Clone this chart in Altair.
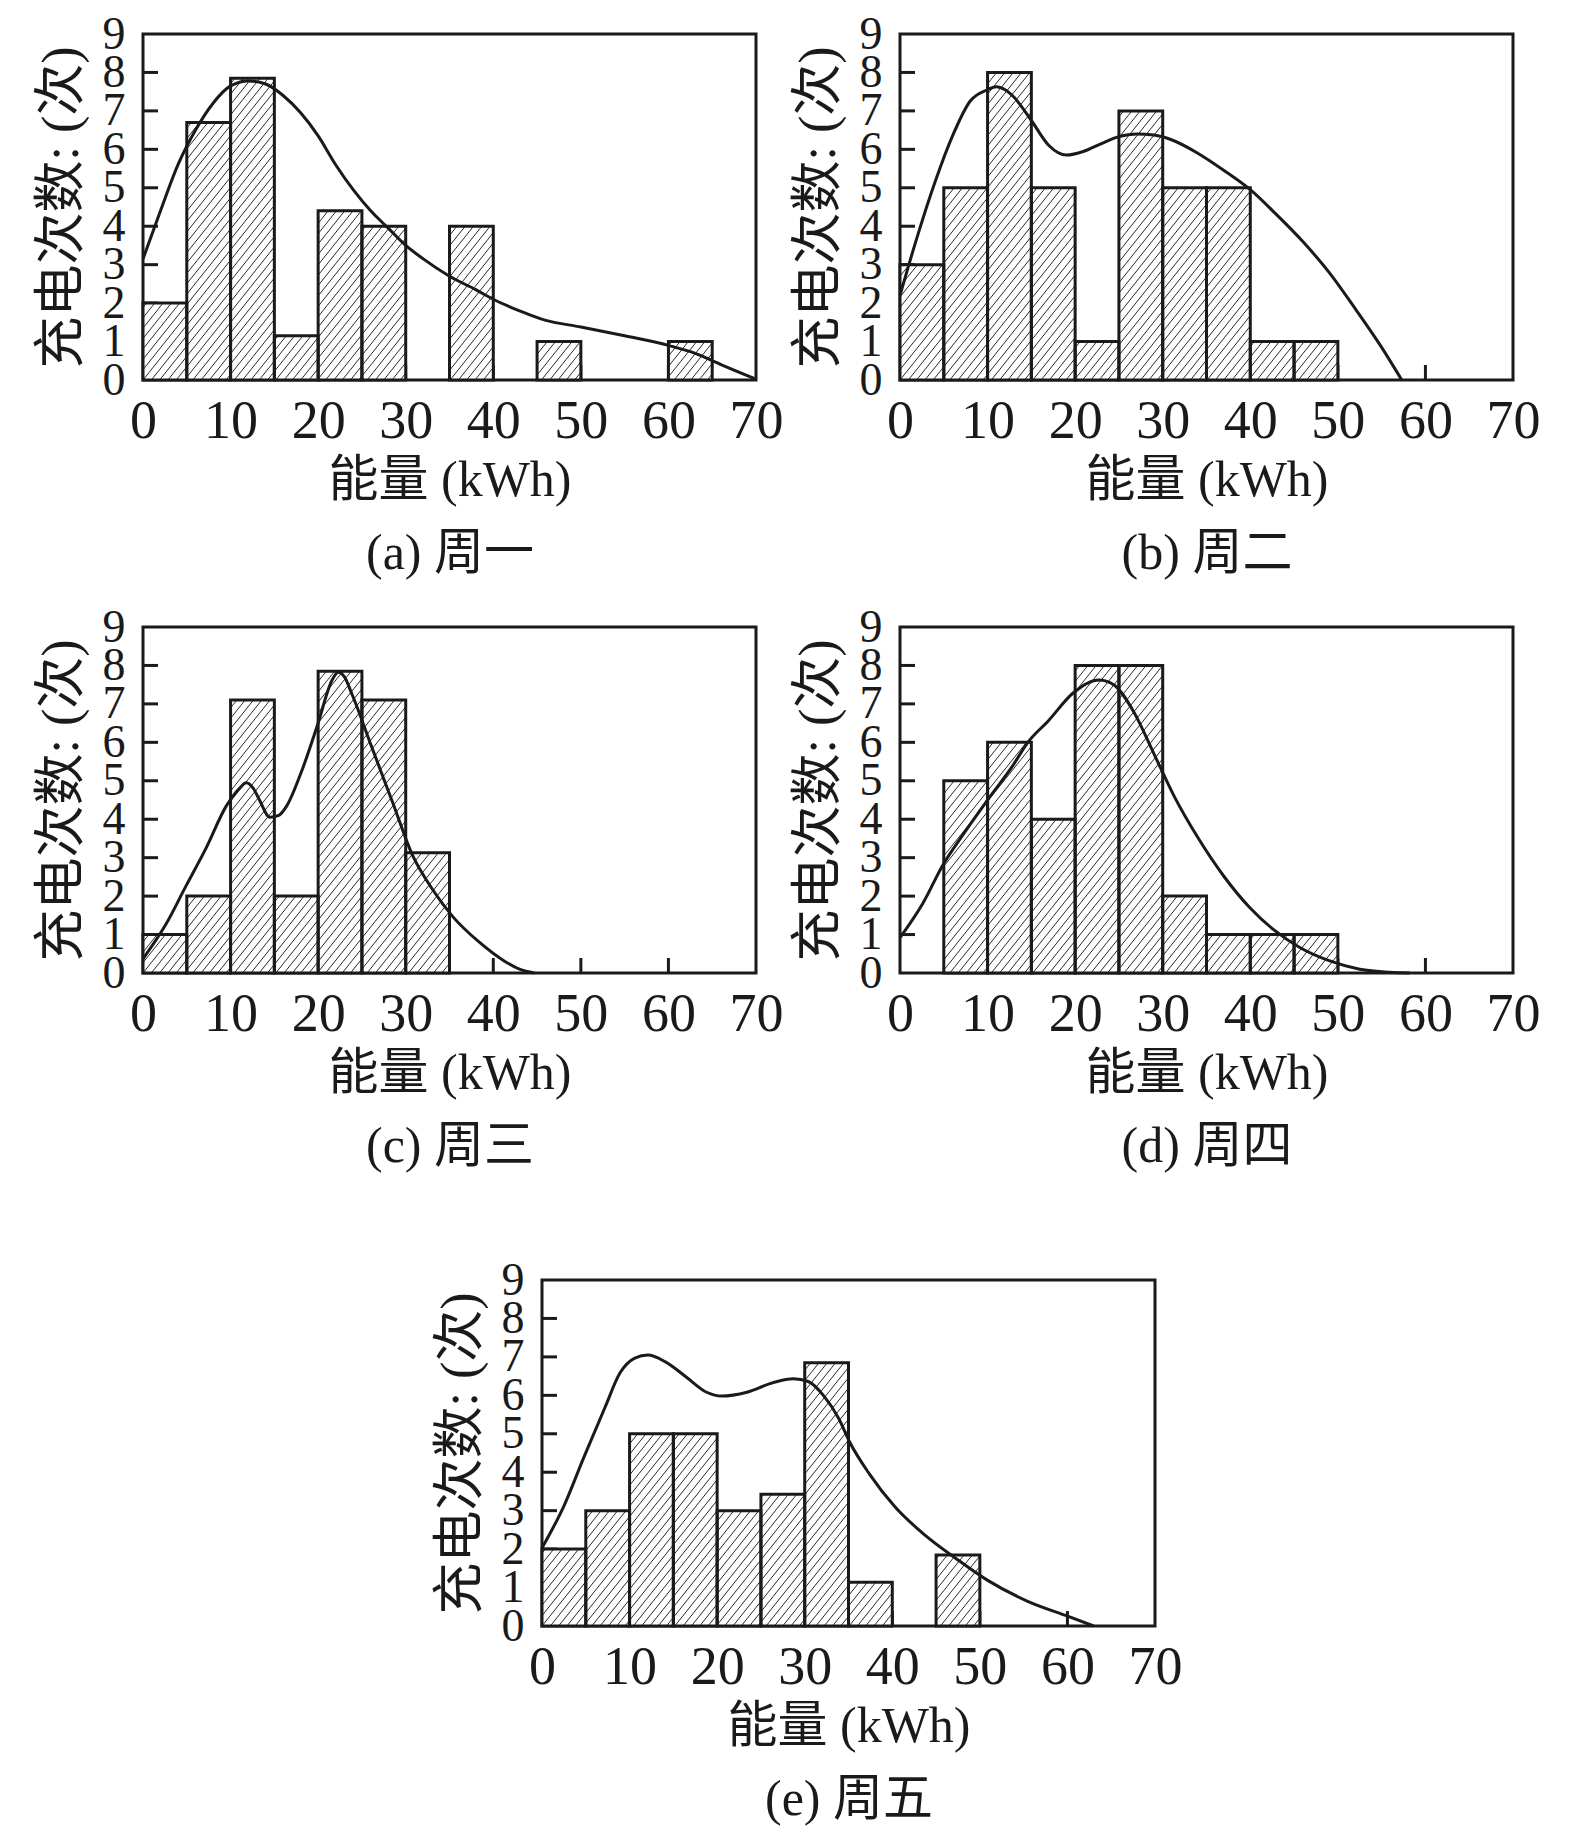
import altair as alt
import numpy as np
import pandas as pd

# ---------------- data ----------------
BIN_WIDTH = 5
BIN_STARTS = list(range(0, 70, 5))

MON = [2, 6.7, 7.85, 1.15, 4.4, 4, 0, 4, 0, 1, 0, 0, 1, 0]
TUE = [3, 5, 8, 5, 1, 7, 5, 5, 1, 1, 0, 0, 0, 0]
WED = [1, 2, 7.1, 2, 7.85, 7.1, 3.13, 0, 0, 0, 0, 0, 0, 0]
THU = [0, 5, 6, 4, 8, 8, 2, 1, 1, 1, 0, 0, 0, 0]
FRI = [2, 3, 5, 5, 3, 3.43, 6.85, 1.14, 0, 1.85, 0, 0, 0, 0]

MON_CX = [0, 2, 4, 6, 8, 10, 12, 14, 16, 18, 20, 22, 24, 26, 28, 30, 32, 35, 38, 40, 43, 46, 50, 55, 60, 63, 66, 70]
MON_CY = [3.15, 4.4, 5.6, 6.5, 7.2, 7.65, 7.78, 7.7, 7.4, 6.95, 6.35, 5.6, 4.95, 4.4, 3.95, 3.5, 3.15, 2.7, 2.35, 2.1, 1.8, 1.55, 1.38, 1.15, 0.9, 0.7, 0.4, 0.02]

TUE_CX = [0, 2, 4, 6, 8, 10, 11, 12, 13, 15, 17, 19, 21, 23, 25, 27, 29, 31, 34, 37, 40, 43, 46, 49, 52, 55, 57.3]
TUE_CY = [2.2, 3.75, 5.15, 6.35, 7.25, 7.55, 7.63, 7.55, 7.36, 6.75, 6.1, 5.85, 5.95, 6.15, 6.33, 6.4, 6.37, 6.25, 5.9, 5.45, 4.95, 4.3, 3.6, 2.8, 1.85, 0.85, 0]

WED_CX = [0, 2.6, 4.9, 7.2, 9.5, 11, 11.8, 12.6, 13.3, 14.5, 15.5, 16.4, 18.1, 19.9, 21.6, 22.3, 23, 23.9, 26.2, 28.5, 30.8, 33.1, 35.4, 38.3, 41.2, 43, 44.7]
WED_CY = [0.37, 1.26, 2.26, 3.25, 4.34, 4.8, 4.95, 4.8, 4.5, 4.05, 4.1, 4.34, 5.24, 6.43, 7.62, 7.82, 7.7, 7.23, 5.83, 4.44, 3.05, 2.16, 1.46, 0.82, 0.32, 0.1, 0]

THU_CX = [0, 2.6, 4.9, 7.2, 10, 12.9, 14.6, 16.9, 19.8, 22.7, 24.4, 26.7, 29, 31.3, 34.1, 37, 39.9, 42.7, 45.6, 49, 52.5, 55.9, 58.2]
THU_CY = [0.92, 1.81, 2.81, 3.6, 4.5, 5.4, 6.0, 6.55, 7.29, 7.62, 7.5, 6.79, 5.7, 4.6, 3.49, 2.51, 1.71, 1.12, 0.67, 0.32, 0.1, 0.02, 0]

FRI_CX = [0, 2.5, 4.8, 7.2, 8.9, 10.6, 12.1, 14.1, 16.5, 18.8, 20.5, 23.4, 26.4, 28.7, 30.4, 32.2, 33.9, 35.1, 37.4, 40.3, 43.8, 47.3, 50.8, 55.4, 60.1, 63]
FRI_CY = [2.03, 3.12, 4.4, 5.69, 6.58, 6.97, 7.05, 6.87, 6.47, 6.08, 5.98, 6.08, 6.33, 6.43, 6.36, 5.98, 5.39, 4.8, 3.95, 3.1, 2.35, 1.75, 1.2, 0.65, 0.25, 0]

CAPTIONS = ["(a) 周一", "(b) 周二", "(c) 周三", "(d) 周四", "(e) 周五"]
X_TICKS = [0, 10, 20, 30, 40, 50, 60, 70]
Y_TICKS = [0, 1, 2, 3, 4, 5, 6, 7, 8, 9]
X_TITLE = "能量 (kWh)"
Y_TITLE = "充电次数: (次)"

# ---------------- style ----------------
W, H = 613, 346
X_MAX, Y_MAX = 70, 9
INK = "#1a1a1a"
SERIF = "Liberation Serif"
MIX = "Liberation Serif, Noto Sans CJK SC"
TICK_LEN = 15
HATCH_SLOPE_PX = 1.25
HATCH_STEP_PX = 8.3


def make_hatch(bars):
    kx = W / X_MAX
    ky = H / Y_MAX
    m = HATCH_SLOPE_PX * kx / ky
    step = HATCH_STEP_PX / kx
    rows = []
    for x0, x1, n in zip(bars["x0"], bars["x1"], bars["n"]):
        run = n / m
        k0 = int(np.floor((x0 - run) / step))
        k1 = int(np.ceil(x1 / step))
        for k in range(k0, k1 + 1):
            c = k * step
            a = max(x0, c)
            b = min(x1, c + run)
            if b - a > 1e-9:
                rows.append({"hx": a, "hy": m * (a - c), "hx2": b, "hy2": m * (b - c)})
    return pd.DataFrame(rows)


def panel(counts, cx, cy, caption):
    bars = pd.DataFrame({
        "x0": BIN_STARTS,
        "x1": [s + BIN_WIDTH for s in BIN_STARTS],
        "n": counts,
    })
    bars = bars[bars["n"] > 0].reset_index(drop=True)
    bars["z"] = 0
    hatch = make_hatch(bars)
    curve = pd.DataFrame({"e": cx, "f": cy})

    XS = alt.Scale(domain=[0, X_MAX], nice=False, zero=False)
    YS = alt.Scale(domain=[0, Y_MAX], nice=False, zero=False)
    ax = alt.Axis(values=X_TICKS, title=[X_TITLE, caption], grid=False, domain=False,
                  tickSize=0, labelFont=SERIF, labelFontSize=54, labelColor=INK,
                  labelPadding=14, labelFlush=False, labelOverlap=False,
                  titleFont=MIX, titleFontSize=50, titleFontWeight="normal",
                  titleColor=INK, titlePadding=7, titleLineHeight=73)
    ay = alt.Axis(values=Y_TICKS, title=Y_TITLE, grid=False, domain=False,
                  tickSize=0, labelFont=SERIF, labelFontSize=46, labelColor=INK,
                  labelPadding=18, labelFlush=False, labelOverlap=False,
                  titleFont=MIX, titleFontSize=52, titleFontWeight="normal",
                  titleColor=INK, titlePadding=14)

    xt = alt.Chart(pd.DataFrame({"v": X_TICKS[1:-1]})).mark_rule(
        color=INK, strokeWidth=3).encode(
        x=alt.X("v:Q", scale=XS, axis=ax),
        y=alt.value(H), y2=alt.value(H - TICK_LEN))
    yt = alt.Chart(pd.DataFrame({"v": Y_TICKS[1:-1]})).mark_rule(
        color=INK, strokeWidth=3).encode(
        y=alt.Y("v:Q", scale=YS, axis=ay),
        x=alt.value(0), x2=alt.value(TICK_LEN))
    fill = alt.Chart(bars).mark_rect(fill="white").encode(
        x=alt.X("x0:Q", scale=XS, axis=ax), x2="x1:Q",
        y=alt.Y("n:Q", scale=YS, axis=ay), y2="z:Q")
    hat = alt.Chart(hatch).mark_rule(color="#2a2a2a", strokeWidth=1.0).encode(
        x=alt.X("hx:Q", scale=XS, axis=ax), x2="hx2:Q",
        y=alt.Y("hy:Q", scale=YS, axis=ay), y2="hy2:Q")
    outline = alt.Chart(bars).mark_rect(fillOpacity=0, stroke=INK, strokeWidth=3).encode(
        x=alt.X("x0:Q", scale=XS, axis=ax), x2="x1:Q",
        y=alt.Y("n:Q", scale=YS, axis=ay), y2="z:Q")
    line = alt.Chart(curve).mark_line(color=INK, strokeWidth=3, interpolate="monotone").encode(
        x=alt.X("e:Q", scale=XS, axis=ax),
        y=alt.Y("f:Q", scale=YS, axis=ay))
    return alt.layer(xt, yt, fill, hat, outline, line).properties(width=W, height=H)


pa = panel(MON, MON_CX, MON_CY, CAPTIONS[0])
pb = panel(TUE, TUE_CX, TUE_CY, CAPTIONS[1])
pc = panel(WED, WED_CX, WED_CY, CAPTIONS[2])
pd_ = panel(THU, THU_CX, THU_CY, CAPTIONS[3])
pe = panel(FRI, FRI_CX, FRI_CY, CAPTIONS[4])

spacer = alt.Chart(pd.DataFrame({"s": [0]})).mark_point(opacity=0).encode(
    x=alt.X("s:Q", axis=None), y=alt.Y("s:Q", axis=None)
).properties(width=399, height=H + 2 * 83, view=alt.ViewBackground(stroke="transparent"))

row1 = alt.hconcat(pa, pb, spacing=144, bounds="flush")
row2 = alt.hconcat(pc, pd_, spacing=144, bounds="flush")
row3 = alt.hconcat(spacer, pe, spacing=0, bounds="flush", center=True)

chart = alt.vconcat(row1, row2, row3, spacing=22).properties(
    padding={"left": 25, "top": 1, "right": 5, "bottom": 3},
    background="white",
).configure_view(stroke=INK, strokeWidth=3)

chart.save("out.html", embed_options={"renderer": "svg", "actions": False})
